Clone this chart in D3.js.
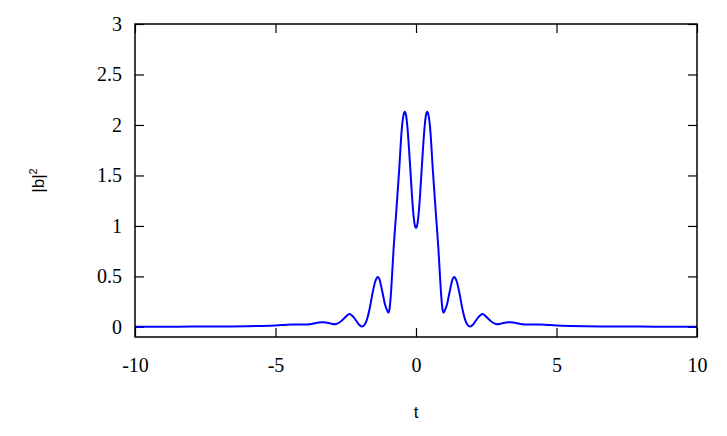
<!DOCTYPE html>
<html><head><meta charset="utf-8">
<script src="https://cdn.jsdelivr.net/npm/d3@7"></script>
<style>body{margin:0;background:#fff}svg{display:block}</style>
</head><body>
<script>
const tValues = [-10,-9,-8,-7,-6,-5.5,-5,-4.7,-4.4,-4.1,-3.88,-3.7,-3.5,-3.35,-3.2,-3.05,-2.9,-2.8,-2.65,-2.5,-2.37,-2.2,-2.05,-1.93,-1.85,-1.75,-1.65,-1.55,-1.45,-1.36,-1.3,-1.2,-1.1,-1.02,-0.98,-0.94,-0.9,-0.85,-0.8,-0.7,-0.6,-0.5,-0.45,-0.4,-0.35,-0.3,-0.25,-0.2,-0.15,-0.1,-0.05,
  0,
  0.05,0.1,0.15,0.2,0.25,0.3,0.35,0.4,0.45,0.5,0.6,0.7,0.8,0.85,0.9,0.94,0.98,1.02,1.1,1.2,1.3,1.36,1.45,1.55,1.65,1.75,1.85,1.93,2.05,2.2,2.37,2.5,2.65,2.8,2.9,3.05,3.2,3.35,3.5,3.7,3.88,4.1,4.4,4.7,5,5.5,6,7,8,9,10];
const bValues = [0.001,0.002,0.003,0.004,0.007,0.01,0.015,0.02,0.025,0.025,0.024,0.03,0.042,0.047,0.044,0.035,0.027,0.032,0.06,0.10,0.128,0.09,0.03,0.003,0.015,0.07,0.18,0.33,0.45,0.495,0.47,0.35,0.22,0.16,0.14,0.18,0.30,0.52,0.76,1.15,1.55,1.98,2.09,2.13,2.09,1.96,1.77,1.55,1.33,1.14,1.02,
  0.98,
  1.02,1.14,1.33,1.55,1.77,1.96,2.09,2.13,2.09,1.98,1.55,1.15,0.76,0.52,0.30,0.18,0.14,0.16,0.22,0.35,0.47,0.495,0.45,0.33,0.18,0.07,0.015,0.003,0.03,0.09,0.128,0.10,0.06,0.032,0.027,0.035,0.044,0.047,0.042,0.03,0.024,0.025,0.025,0.02,0.015,0.01,0.007,0.004,0.003,0.002,0.001];
const xTicks = [-10,-5,0,5,10];
const yTicks = [0,0.5,1,1.5,2,2.5,3];
const xLabel = "t";

const W = 727, H = 436;
const L = 135, R = 697, T = 24, B = 337;
const svg = d3.select("body").append("svg").attr("width", W).attr("height", H);
const x = d3.scaleLinear().domain([-10, 10]).range([L, R]);
const y = d3.scaleLinear().domain([-0.1, 3]).range([B, T]);
const tickLen = 9;

const g = svg.append("g");
const ax = g.append("g").attr("transform", `translate(0,${B})`)
  .call(d3.axisBottom(x).tickValues(xTicks).tickSize(-tickLen).tickPadding(21).tickFormat(d3.format("d")));
const axTop = g.append("g").attr("transform", `translate(0,${T})`)
  .call(d3.axisTop(x).tickValues(xTicks).tickSize(-tickLen).tickFormat(""));
const ay = g.append("g").attr("transform", `translate(${L},0)`)
  .call(d3.axisLeft(y).tickValues(yTicks).tickSize(-tickLen).tickPadding(13).tickFormat(d => d3.format("")(d)));
const ayR = g.append("g").attr("transform", `translate(${R},0)`)
  .call(d3.axisRight(y).tickValues(yTicks).tickSize(-tickLen).tickFormat(""));
[ax, axTop, ay, ayR].forEach(a => {
  a.select(".domain").remove();
  a.selectAll(".tick line").attr("stroke", "#000").attr("stroke-width", 1.2);
  a.selectAll("text").attr("font-family", "'Liberation Serif', 'Times New Roman', serif")
    .attr("font-size", 20).attr("fill", "#000");
});
ax.selectAll("text").text(d => d < 0 ? "-" + Math.abs(d) : d);

const line = d3.line().x((d, i) => x(tValues[i])).y(d => y(d)).curve(d3.curveMonotoneX);
svg.append("path").datum(bValues).attr("d", line)
  .attr("fill", "none").attr("stroke", "#0000ff").attr("stroke-width", 2);

svg.append("rect").attr("x", L).attr("y", T).attr("width", R - L).attr("height", B - T)
  .attr("fill", "none").attr("stroke", "#000").attr("stroke-width", 1.5);

svg.append("text").attr("x", x(0)).attr("y", 418).attr("text-anchor", "middle")
  .attr("font-family", "'Liberation Sans', Arial, sans-serif").attr("font-size", 17).text(xLabel);

const yl = svg.append("text").attr("transform", `translate(44,${y(1.45)}) rotate(-90)`)
  .attr("text-anchor", "middle")
  .attr("font-family", "'Liberation Sans', Arial, sans-serif").attr("font-size", 17);
yl.append("tspan").text("|b|");
yl.append("tspan").attr("font-size", 11).attr("dy", -7).text("2");
</script>
</body></html>
